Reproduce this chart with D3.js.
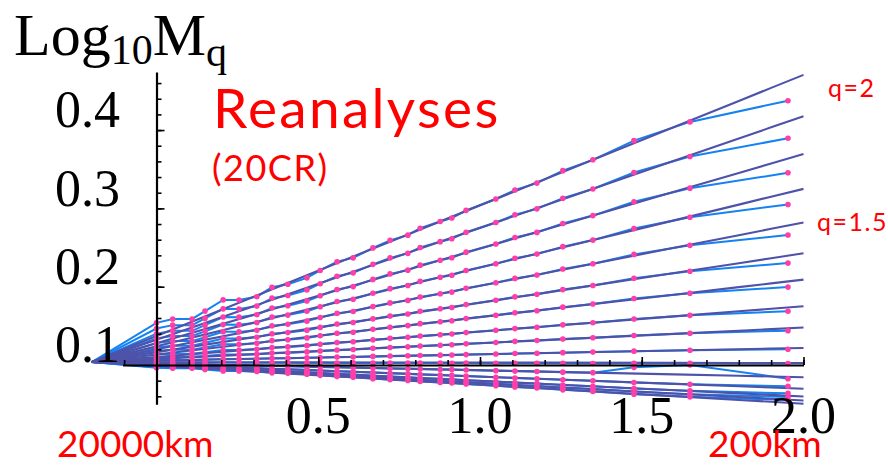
<!DOCTYPE html>
<html>
<head>
<meta charset="utf-8">
<script src="https://cdn.jsdelivr.net/npm/d3@7"></script>
<style>
  body { margin: 0; background: #fff; }
  .serif { font-family: "Liberation Serif", "Times New Roman", serif; fill: #000; }
  .red { font-family: Lato, "Open Sans", sans-serif; fill: #ff0000; }
</style>
</head>
<body>
<div id="chart"></div>
<script>
// log10 of scale ratio (0 = 20000km, 2 = 200km) where the measured points sit
const dotX = [0, 0.05, 0.11, 0.15, 0.206, 0.255, 0.31, 0.357, 0.406, 0.465, 0.506, 0.558, 0.608, 0.669,
  0.722, 0.777, 0.815, 0.877, 0.913, 0.957, 1.049, 1.108, 1.176, 1.256, 1.349, 1.476, 1.649, 1.952];
// every curve starts from the same outer-scale point
const startPoint = [-0.2, 0.0838];
// x positions of the dark (fit) curves
const fitX = [-0.2, 0, 0.4, 0.8, 1.2, 1.6, 1.8, 1.9, 2.0];

const qValues = [2.0, 1.9, 1.8, 1.7, 1.6, 1.5, 1.4, 1.3, 1.2, 1.1, 1.0, 0.9, 0.8, 0.7, 0.6, 0.5];

// measured Log10 Mq (pink dots, light blue lines)
const q20 = [.1338,.1388,.1388,.1488,.1631,.1630,.1672,.1792,.1832,.1913,.2007,.2118,.2168,.2295,.2392,.2458,.2547,.2633,.2677,.2775,.2920,.3035,.3123,.3282,.3420,.3665,.3904,.4175];
const q19 = [.1266,.1309,.1309,.1395,.1517,.1516,.1552,.1654,.1688,.1758,.1838,.1934,.1977,.2085,.2168,.2225,.2301,.2375,.2412,.2496,.2620,.2719,.2794,.2930,.3048,.3258,.3462,.3695];
const q18 = [.1200,.1236,.1236,.1309,.1413,.1411,.1442,.1528,.1557,.1617,.1684,.1765,.1801,.1893,.1963,.2011,.2075,.2138,.2169,.2241,.2346,.2429,.2493,.2607,.2708,.2885,.3058,.3254];
const q17 = [.1140,.1170,.1170,.1230,.1316,.1315,.1341,.1413,.1437,.1486,.1543,.1610,.1640,.1716,.1775,.1815,.1868,.1920,.1947,.2006,.2093,.2163,.2216,.2311,.2395,.2542,.2686,.2850];
const q16 = [.1081,.1105,.1105,.1154,.1224,.1223,.1243,.1301,.1321,.1360,.1406,.1460,.1484,.1546,.1593,.1625,.1668,.1710,.1731,.1779,.1850,.1906,.1949,.2025,.2093,.2212,.2328,.2460];
const q15 = [.1027,.1046,.1046,.1084,.1138,.1138,.1154,.1199,.1214,.1245,.1280,.1323,.1342,.1389,.1426,.1451,.1485,.1518,.1534,.1571,.1626,.1670,.1703,.1763,.1815,.1908,.1998,.2101];
const q14 = [.0981,.0996,.0996,.1024,.1066,.1065,.1077,.1111,.1123,.1146,.1173,.1205,.1219,.1256,.1283,.1303,.1328,.1353,.1365,.1393,.1435,.1468,.1493,.1539,.1578,.1649,.1717,.1795];
const q13 = [.0935,.0945,.0945,.0964,.0992,.0992,.1000,.1023,.1031,.1047,.1065,.1087,.1097,.1121,.1140,.1153,.1170,.1187,.1195,.1214,.1243,.1265,.1282,.1313,.1340,.1388,.1434,.1487];
const q12 = [.0898,.0904,.0904,.0916,.0933,.0933,.0938,.0952,.0957,.0967,.0978,.0992,.0998,.1013,.1024,.1032,.1043,.1053,.1059,.1070,.1088,.1102,.1112,.1131,.1148,.1177,.1206,.1238];
const q11 = [.0863,.0865,.0865,.0870,.0877,.0877,.0879,.0885,.0887,.0891,.0895,.0901,.0903,.0910,.0914,.0918,.0922,.0926,.0928,.0933,.0940,.0946,.0950,.0958,.0965,.0977,.0989,.1002];
const q10 = [.0834,.0832,.0833,.0830,.0831,.0829,.0830,.0828,.0829,.0827,.0828,.0826,.0827,.0825,.0826,.0824,.0825,.0824,.0823,.0824,.0822,.0823,.0821,.0822,.0820,.0821,.0822,.0818];
const q09 = [.0812,.0809,.0809,.0804,.0796,.0796,.0794,.0788,.0786,.0781,.0776,.0770,.0768,.0761,.0756,.0752,.0748,.0743,.0741,.0736,.0728,.0722,.0717,.0709,.0702,.0770,.0800,.0625];
const q08 = [.0792,.0787,.0787,.0778,.0764,.0764,.0760,.0749,.0746,.0738,.0729,.0719,.0714,.0703,.0694,.0687,.0679,.0671,.0667,.0658,.0644,.0634,.0625,.0611,.0598,.0575,.0553,.0528];
const q07 = [.0778,.0772,.0772,.0760,.0743,.0743,.0738,.0724,.0719,.0709,.0698,.0684,.0678,.0663,.0652,.0644,.0633,.0623,.0617,.0606,.0588,.0574,.0564,.0545,.0528,.0499,.0470,.0438];
const q06 = [.0771,.0764,.0764,.0751,.0732,.0732,.0726,.0710,.0705,.0694,.0682,.0667,.0660,.0643,.0630,.0621,.0609,.0598,.0592,.0579,.0559,.0544,.0532,.0511,.0493,.0460,.0428,.0392];
const q05 = [.0765,.0758,.0758,.0744,.0723,.0723,.0717,.0700,.0694,.0682,.0668,.0652,.0645,.0626,.0612,.0603,.0590,.0577,.0571,.0557,.0536,.0519,.0506,.0483,.0463,.0428,.0393,.0354];

// fitted curves (dark purple)
const fit20 = [.0838,.1171,.1838,.2505,.3172,.3839,.4172,.4339,.4505];
const fit19 = [.0838,.1123,.1694,.2265,.2836,.3407,.3692,.3835,.3977];
const fit18 = [.0838,.1079,.1562,.2045,.2528,.3011,.3252,.3373,.3493];
const fit17 = [.0838,.1039,.1441,.1843,.2245,.2647,.2848,.2949,.3049];
const fit16 = [.0838,.1000,.1324,.1648,.1972,.2296,.2458,.2539,.2620];
const fit15 = [.0838,.0964,.1217,.1469,.1721,.1974,.2100,.2163,.2226];
const fit14 = [.0838,.0934,.1125,.1316,.1507,.1698,.1794,.1842,.1890];
const fit13 = [.0838,.0903,.1032,.1162,.1292,.1421,.1486,.1518,.1551];
const fit12 = [.0838,.0878,.0958,.1038,.1118,.1198,.1238,.1258,.1278];
const fit11 = [.0838,.0854,.0887,.0920,.0953,.0986,.1002,.1010,.1018];
const fit10 = [.0838,.0836,.0834,.0832,.0830,.0828,.0826,.0825,.0824];
const fit09 = [.0838,.0820,.0785,.0750,.0715,.0680,.0662,.0653,.0644];
const fit08 = [.0838,.0807,.0745,.0683,.0621,.0559,.0528,.0513,.0497];
const fit07 = [.0838,.0798,.0718,.0638,.0558,.0478,.0438,.0418,.0398];
const fit06 = [.0838,.0793,.0704,.0615,.0526,.0437,.0392,.0370,.0347];
const fit05 = [.0838,.0790,.0693,.0596,.0499,.0402,.0354,.0330,.0306];

const measured = [q20, q19, q18, q17, q16, q15, q14, q13, q12, q11, q10, q09, q08, q07, q06, q05];
const fitted = [fit20, fit19, fit18, fit17, fit16, fit15, fit14, fit13, fit12, fit11, fit10, fit09, fit08, fit07, fit06, fit05];

// axes
const xAxisExtent = [-0.105, 2.0];
const yAxisExtent = [0.030, 0.454];
const xMinorTicks = [-0.1, 0, 0.1, 0.2, 0.3, 0.4, 0.5, 0.6, 0.7, 0.8, 0.9, 1.0, 1.1, 1.2, 1.3, 1.4, 1.5, 1.6, 1.7, 1.8, 1.9, 2.0];
const xMajorTicks = [0, 0.5, 1.0, 1.5, 2.0];
const xLabels = ["0.5", "1.0", "1.5", "2.0"];
const yMinorTicks = [0.04, 0.06, 0.08, 0.10, 0.12, 0.14, 0.16, 0.18, 0.20, 0.22, 0.24, 0.26, 0.28, 0.30, 0.32, 0.34, 0.36, 0.38, 0.40, 0.42, 0.44];
const yMajorTicks = [0.18, 0.28, 0.38];
const yLabels = ["0.1", "0.2", "0.3", "0.4"];
const qLabels = [{text: "q=2", q: 2.0}, {text: "q=1.5", q: 1.5}];

const width = 888, height = 466;

const svg = d3.select("#chart").append("svg")
    .attr("width", width)
    .attr("height", height);

const x = d3.scaleLinear().domain([0, 2]).range([156.5, 803.5]);
const y = d3.scaleLinear().domain([0.08, 0.4]).range([365, 114.4]);

const xAxisScale = d3.scaleLinear().domain(xAxisExtent).range(xAxisExtent.map(x));
const yAxisScale = d3.scaleLinear().domain(yAxisExtent).range(yAxisExtent.map(y));

const line = d3.line().x(d => x(d[0])).y(d => y(d[1]));

// light blue measured lines
svg.append("g").selectAll("path")
    .data(measured)
    .enter().append("path")
    .attr("d", vals => line([startPoint].concat(vals.map((v, i) => [dotX[i], v]))))
    .attr("fill", "none")
    .attr("stroke", "#1582f2")
    .attr("stroke-width", 2);

// dark fitted lines
svg.append("g").selectAll("path")
    .data(fitted)
    .enter().append("path")
    .attr("d", vals => line(vals.map((v, i) => [fitX[i], v])))
    .attr("fill", "none")
    .attr("stroke", "#4e52a8")
    .attr("stroke-width", 2.1);

// pink markers
svg.append("g").selectAll("g")
    .data(measured)
    .enter().append("g")
    .selectAll("circle")
    .data(vals => vals.map((v, i) => [dotX[i], v]))
    .enter().append("circle")
    .attr("cx", d => x(d[0]))
    .attr("cy", d => y(d[1]))
    .attr("r", 2.8)
    .attr("fill", "#ff3fa8");

// x axis (ticks point up)
const gX = svg.append("g").attr("transform", "translate(0," + y(0.08) + ")");
gX.call(d3.axisTop(xAxisScale).tickValues(xMinorTicks).tickSizeInner(5).tickSizeOuter(0).tickFormat(""));
gX.append("g").call(d3.axisTop(xAxisScale).tickValues(xMajorTicks).tickSizeInner(8).tickSizeOuter(0).tickFormat(""))
    .select(".domain").remove();

// y axis (ticks point right)
const gY = svg.append("g").attr("transform", "translate(" + x(0) + ",0)");
gY.call(d3.axisRight(yAxisScale).tickValues(yMinorTicks).tickSizeInner(5).tickSizeOuter(0).tickFormat(""));
gY.append("g").call(d3.axisRight(yAxisScale).tickValues(yMajorTicks).tickSizeInner(8).tickSizeOuter(0).tickFormat(""))
    .select(".domain").remove();

svg.selectAll(".domain").attr("stroke", "#000").attr("stroke-width", 2.2);
svg.selectAll(".tick line").attr("stroke", "#000").attr("stroke-width", 1.6);

// tick labels
svg.selectAll(".xlab")
    .data(xLabels)
    .enter().append("text")
    .attr("class", "serif")
    .attr("x", d => x(+d))
    .attr("y", 433)
    .attr("text-anchor", "middle")
    .attr("font-size", 52)
    .text(d => d);

svg.selectAll(".ylab")
    .data(yLabels)
    .enter().append("text")
    .attr("class", "serif")
    .attr("x", 120)
    .attr("y", d => y(+d) + 13)
    .attr("text-anchor", "end")
    .attr("font-size", 52)
    .text(d => d);

// axis title Log10 Mq
const title = svg.append("text").attr("class", "serif").attr("x", 14).attr("y", 55).attr("font-size", 60);
title.append("tspan").text("Log");
title.append("tspan").attr("font-size", 42).attr("dy", 9).text("10");
title.append("tspan").attr("dy", -9).text("M");
title.append("tspan").attr("font-size", 42).attr("dy", 11).text("q");

// red annotations
svg.append("text").attr("class", "red").attr("x", 213).attr("y", 128).attr("font-size", 55)
    .attr("letter-spacing", 2.3).text("Reanalyses");
svg.append("text").attr("class", "red").attr("x", 212).attr("y", 181).attr("font-size", 36)
    .attr("letter-spacing", 1.5).text("(20CR)");
svg.append("text").attr("class", "red").attr("x", 57).attr("y", 457).attr("font-size", 37).text("20000km");
svg.append("text").attr("class", "red").attr("x", 708).attr("y", 457).attr("font-size", 37).text("200km");

svg.selectAll(".qlab")
    .data(qLabels)
    .enter().append("text")
    .attr("class", "red")
    .attr("x", d => d.q === 2.0 ? 828 : 817)
    .attr("y", d => d.q === 2.0 ? 97 : 231)
    .attr("font-size", 25)
    .attr("letter-spacing", 1.5)
    .text(d => d.text);
</script>
</body>
</html>
